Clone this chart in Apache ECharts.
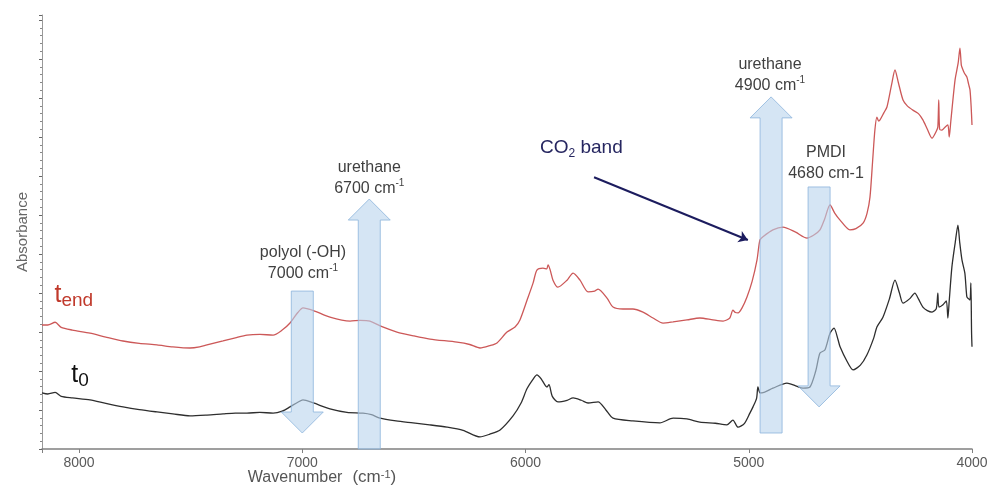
<!DOCTYPE html>
<html>
<head>
<meta charset="utf-8">
<title>NIR spectra t0 / tend</title>
<script src="https://cdn.jsdelivr.net/npm/echarts@6/dist/echarts.min.js"></script>
<style>
  html, body { margin: 0; padding: 0; background: #fff; }
  #chart { width: 987px; height: 488px; }
</style>
</head>
<body>
<div id="chart"></div>
<script>
// spectrum t_end (red)
const wnEnd = [8166, 8140, 8107, 8080, 8030, 7951, 7880, 7803, 7730, 7651, 7580, 7503, 7460, 7427, 7355, 7300, 7248, 7190, 7131, 7090, 7055, 7020, 6997, 6950, 6876, 6786, 6740, 6697, 6640, 6576, 6500, 6428, 6307, 6250, 6204, 6160, 6128, 6083, 6047, 6025, 5993, 5966, 5949, 5922, 5905, 5899, 5890, 5877, 5855, 5814, 5787, 5756, 5720, 5690, 5675, 5635, 5608, 5563, 5519, 5474, 5429, 5384, 5339, 5277, 5219, 5160, 5115, 5085, 5071, 5060, 5048, 5030, 5008, 4985, 4963, 4950, 4935, 4892, 4847, 4790, 4739, 4710, 4681, 4660, 4636, 4615, 4591, 4547, 4520, 4488, 4470, 4457, 4445, 4435, 4426, 4418, 4412, 4395, 4381, 4360, 4345, 4330, 4309, 4290, 4265, 4240, 4220, 4200, 4179, 4160, 4153, 4149, 4145, 4135, 4120, 4108, 4102, 4095, 4076, 4062, 4054, 4048, 4045, 4035, 4023, 4015, 4009, 4004, 4000];
const absEnd = [0.318, 0.318, 0.325, 0.312, 0.305, 0.297, 0.287, 0.277, 0.271, 0.267, 0.262, 0.259, 0.262, 0.267, 0.277, 0.285, 0.292, 0.294, 0.292, 0.305, 0.323, 0.350, 0.362, 0.355, 0.338, 0.328, 0.330, 0.328, 0.313, 0.300, 0.290, 0.282, 0.274, 0.268, 0.259, 0.265, 0.272, 0.300, 0.313, 0.331, 0.382, 0.426, 0.459, 0.464, 0.462, 0.472, 0.460, 0.433, 0.415, 0.433, 0.451, 0.433, 0.403, 0.405, 0.410, 0.387, 0.364, 0.359, 0.359, 0.351, 0.336, 0.323, 0.326, 0.331, 0.336, 0.331, 0.328, 0.336, 0.356, 0.350, 0.349, 0.362, 0.390, 0.430, 0.485, 0.536, 0.545, 0.562, 0.569, 0.556, 0.541, 0.548, 0.562, 0.590, 0.626, 0.605, 0.587, 0.562, 0.565, 0.579, 0.605, 0.646, 0.740, 0.818, 0.851, 0.841, 0.844, 0.862, 0.877, 0.935, 0.972, 0.940, 0.895, 0.880, 0.869, 0.860, 0.844, 0.820, 0.797, 0.815, 0.826, 0.895, 0.820, 0.818, 0.826, 0.831, 0.800, 0.840, 0.946, 0.990, 1.028, 0.985, 0.979, 0.965, 0.954, 0.935, 0.921, 0.880, 0.831];

// spectrum t0 (black)
const wnStart = [8166, 8140, 8107, 8080, 8030, 7951, 7880, 7803, 7730, 7651, 7580, 7503, 7427, 7355, 7300, 7248, 7190, 7131, 7090, 7055, 7020, 6997, 6950, 6876, 6800, 6728, 6690, 6652, 6580, 6504, 6430, 6352, 6280, 6204, 6160, 6114, 6056, 6020, 5993, 5965, 5949, 5930, 5904, 5895, 5880, 5855, 5814, 5787, 5750, 5720, 5675, 5640, 5608, 5519, 5398, 5339, 5277, 5219, 5150, 5098, 5071, 5048, 5020, 4995, 4981, 4965, 4959, 4950, 4941, 4892, 4829, 4790, 4757, 4726, 4700, 4681, 4659, 4636, 4618, 4600, 4591, 4560, 4533, 4500, 4471, 4440, 4426, 4399, 4370, 4345, 4325, 4309, 4280, 4256, 4240, 4220, 4200, 4179, 4160, 4153, 4148, 4130, 4115, 4108, 4102, 4090, 4075, 4063, 4055, 4045, 4032, 4023, 4015, 4009, 4005, 4002, 4000];
const absStart = [0.144, 0.141, 0.145, 0.135, 0.131, 0.126, 0.117, 0.108, 0.101, 0.095, 0.090, 0.085, 0.087, 0.090, 0.092, 0.092, 0.094, 0.092, 0.097, 0.108, 0.120, 0.126, 0.118, 0.103, 0.094, 0.092, 0.088, 0.079, 0.072, 0.067, 0.062, 0.056, 0.048, 0.031, 0.038, 0.049, 0.085, 0.118, 0.155, 0.180, 0.190, 0.180, 0.159, 0.165, 0.135, 0.121, 0.125, 0.131, 0.125, 0.118, 0.121, 0.100, 0.079, 0.072, 0.067, 0.079, 0.077, 0.069, 0.066, 0.062, 0.074, 0.056, 0.065, 0.092, 0.108, 0.130, 0.159, 0.144, 0.144, 0.156, 0.169, 0.162, 0.156, 0.159, 0.200, 0.246, 0.254, 0.297, 0.310, 0.280, 0.262, 0.225, 0.203, 0.215, 0.241, 0.285, 0.313, 0.338, 0.385, 0.433, 0.400, 0.374, 0.385, 0.400, 0.385, 0.364, 0.355, 0.351, 0.360, 0.400, 0.364, 0.370, 0.380, 0.336, 0.380, 0.467, 0.530, 0.574, 0.530, 0.485, 0.451, 0.390, 0.385, 0.382, 0.426, 0.300, 0.262];

// band arrows: position, tail and tip absorbance
const arrowWn = [7000, 6700, 4900, 4685];
const arrowTail = [0.405, 0, 0.041, 0.672];
const arrowTip = [0.041, 0.641, 0.903, 0.108];

// annotation texts and anchors
const noteText = [
  'polyol (-OH)\n7000 cm{sup|-1}',
  'urethane\n6700 cm{sup|-1}',
  'urethane\n4900 cm{sup|-1}',
  'PMDI\n4680 cm-1'
];
const noteWn = [6997, 6700, 4905, 4654];
const noteAbs = [0.477, 0.694, 0.959, 0.732];

const co2Label = [5750, 0.772];
const co2From = [5693, 0.697];
const co2To = [5004, 0.536];
const endLabel = [8110, 0.395];
const startLabel = [8035, 0.19];

const xTicks = [4000, 5000, 6000, 7000, 8000];

const zip = (a, b) => a.map((v, i) => [v, b[i]]);

const chart = echarts.init(document.getElementById('chart'));

const FONT = 'Liberation Sans, Arial, sans-serif';

chart.setOption({
  animation: false,
  grid: { left: 42, right: 15, top: 15, bottom: 39, outerBoundsMode: 'none' },
  xAxis: {
    type: 'value',
    inverse: true,
    min: 4000,
    max: 8166,
    interval: 1000,
    name: '{a|Wavenumber}   {b|(cm}{s|-1}{b|)}',
    nameLocation: 'middle',
    nameGap: 20,
    nameMoveOverlap: false,
    nameTextStyle: {
      padding: [0, 370, 0, 0],
      rich: {
        a: { fontSize: 16, color: '#555', fontFamily: FONT },
        b: { fontSize: 17, color: '#555', fontFamily: FONT },
        s: { fontSize: 11, color: '#555', fontFamily: FONT, verticalAlign: 'top' }
      }
    },
    axisLine: { lineStyle: { color: '#808080', width: 1.5 } },
    axisTick: { show: true, length: 4, lineStyle: { color: '#808080' } },
    axisLabel: {
      margin: 7,
      fontSize: 14,
      color: '#595959',
      fontFamily: FONT,
      formatter: v => (xTicks.indexOf(v) >= 0 ? String(v) : '')
    },
    splitLine: { show: false }
  },
  yAxis: {
    type: 'value',
    min: 0,
    max: 1.113,
    interval: 0.1,
    name: 'Absorbance',
    nameLocation: 'middle',
    nameGap: 12,
    nameTextStyle: { fontSize: 15, color: '#666', fontFamily: FONT },
    axisLine: { show: true, lineStyle: { color: '#999', width: 1 } },
    axisTick: { show: true, length: 3, lineStyle: { color: '#666' } },
    minorTick: { show: true, splitNumber: 5, length: 2, lineStyle: { color: '#888' } },
    axisLabel: { show: false },
    splitLine: { show: false }
  },
  series: [
    {
      name: 't0',
      type: 'line',
      data: zip(wnStart, absStart),
      showSymbol: false,
      smooth: 0.25,
      lineStyle: { color: '#2e2e2e', width: 1.3 },
      z: 2
    },
    {
      name: 'tend',
      type: 'line',
      data: zip(wnEnd, absEnd),
      showSymbol: false,
      smooth: 0.25,
      lineStyle: { color: '#cc5858', width: 1.3 },
      z: 2,
      markLine: {
        silent: true,
        symbol: ['none', 'arrow'],
        symbolSize: 9,
        label: { show: false },
        lineStyle: { color: '#1c1c5e', width: 2, type: 'solid' },
        data: [[{ coord: co2From }, { coord: co2To }]]
      }
    },
    {
      name: 'arrows',
      type: 'custom',
      z: 3,
      data: arrowWn.map((w, i) => [w, arrowTail[i], arrowTip[i]]),
      encode: { x: 0, y: [1, 2] },
      renderItem: function (params, api) {
        const base = api.coord([api.value(0), api.value(1)]);
        const tip = api.coord([api.value(0), api.value(2)]);
        const x = base[0], y0 = base[1], y1 = tip[1];
        const dir = y1 > y0 ? 1 : -1;
        const hw = 11, HW = 21, hl = 21;
        const hb = y1 - dir * hl;
        return {
          type: 'polygon',
          shape: {
            points: [
              [x - hw, y0], [x + hw, y0], [x + hw, hb], [x + HW, hb],
              [x, y1], [x - HW, hb], [x - hw, hb]
            ]
          },
          style: { fill: 'rgba(185,212,237,0.6)', stroke: 'rgba(140,180,220,0.8)', lineWidth: 1 }
        };
      }
    },
    {
      name: 'notes',
      type: 'custom',
      z: 4,
      data: noteWn.map((w, i) => [w, noteAbs[i], i]),
      encode: { x: 0, y: 1 },
      renderItem: function (params, api) {
        const p = api.coord([api.value(0), api.value(1)]);
        return {
          type: 'text',
          x: p[0],
          y: p[1],
          style: {
            text: noteText[api.value(2)],
            fill: '#404040',
            fontSize: 16,
            fontFamily: FONT,
            lineHeight: 21,
            align: 'center',
            verticalAlign: 'middle',
            rich: {
              sup: { fontSize: 10, fill: '#404040', fontFamily: FONT, verticalAlign: 'top', lineHeight: 21 }
            }
          }
        };
      }
    },
    {
      name: 'curveLabels',
      type: 'custom',
      z: 4,
      data: [[co2Label[0], co2Label[1], 0], [endLabel[0], endLabel[1], 1], [startLabel[0], startLabel[1], 2]],
      encode: { x: 0, y: 1 },
      renderItem: function (params, api) {
        const p = api.coord([api.value(0), api.value(1)]);
        const k = api.value(2);
        if (k === 0) {
          return {
            type: 'text', x: p[0], y: p[1],
            style: {
              text: '{a|CO}{s|2}{a| band}',
              align: 'center', verticalAlign: 'middle',
              rich: {
                a: { fontSize: 19, fill: '#262660', fontFamily: FONT, lineHeight: 24 },
                s: { fontSize: 12, fill: '#262660', fontFamily: FONT, verticalAlign: 'bottom', lineHeight: 24 }
              }
            }
          };
        }
        const color = k === 1 ? '#c0392b' : '#111';
        return {
          type: 'text', x: p[0], y: p[1],
          style: {
            text: k === 1 ? '{a|t}{s|end}' : '{a|t}{s|0}',
            align: 'left', verticalAlign: 'middle',
            rich: {
              a: { fontSize: 25, fill: color, fontFamily: FONT, lineHeight: 30 },
              s: { fontSize: 19, fill: color, fontFamily: FONT, verticalAlign: 'bottom', lineHeight: 30 }
            }
          }
        };
      }
    }
  ]
});
</script>
</body>
</html>
